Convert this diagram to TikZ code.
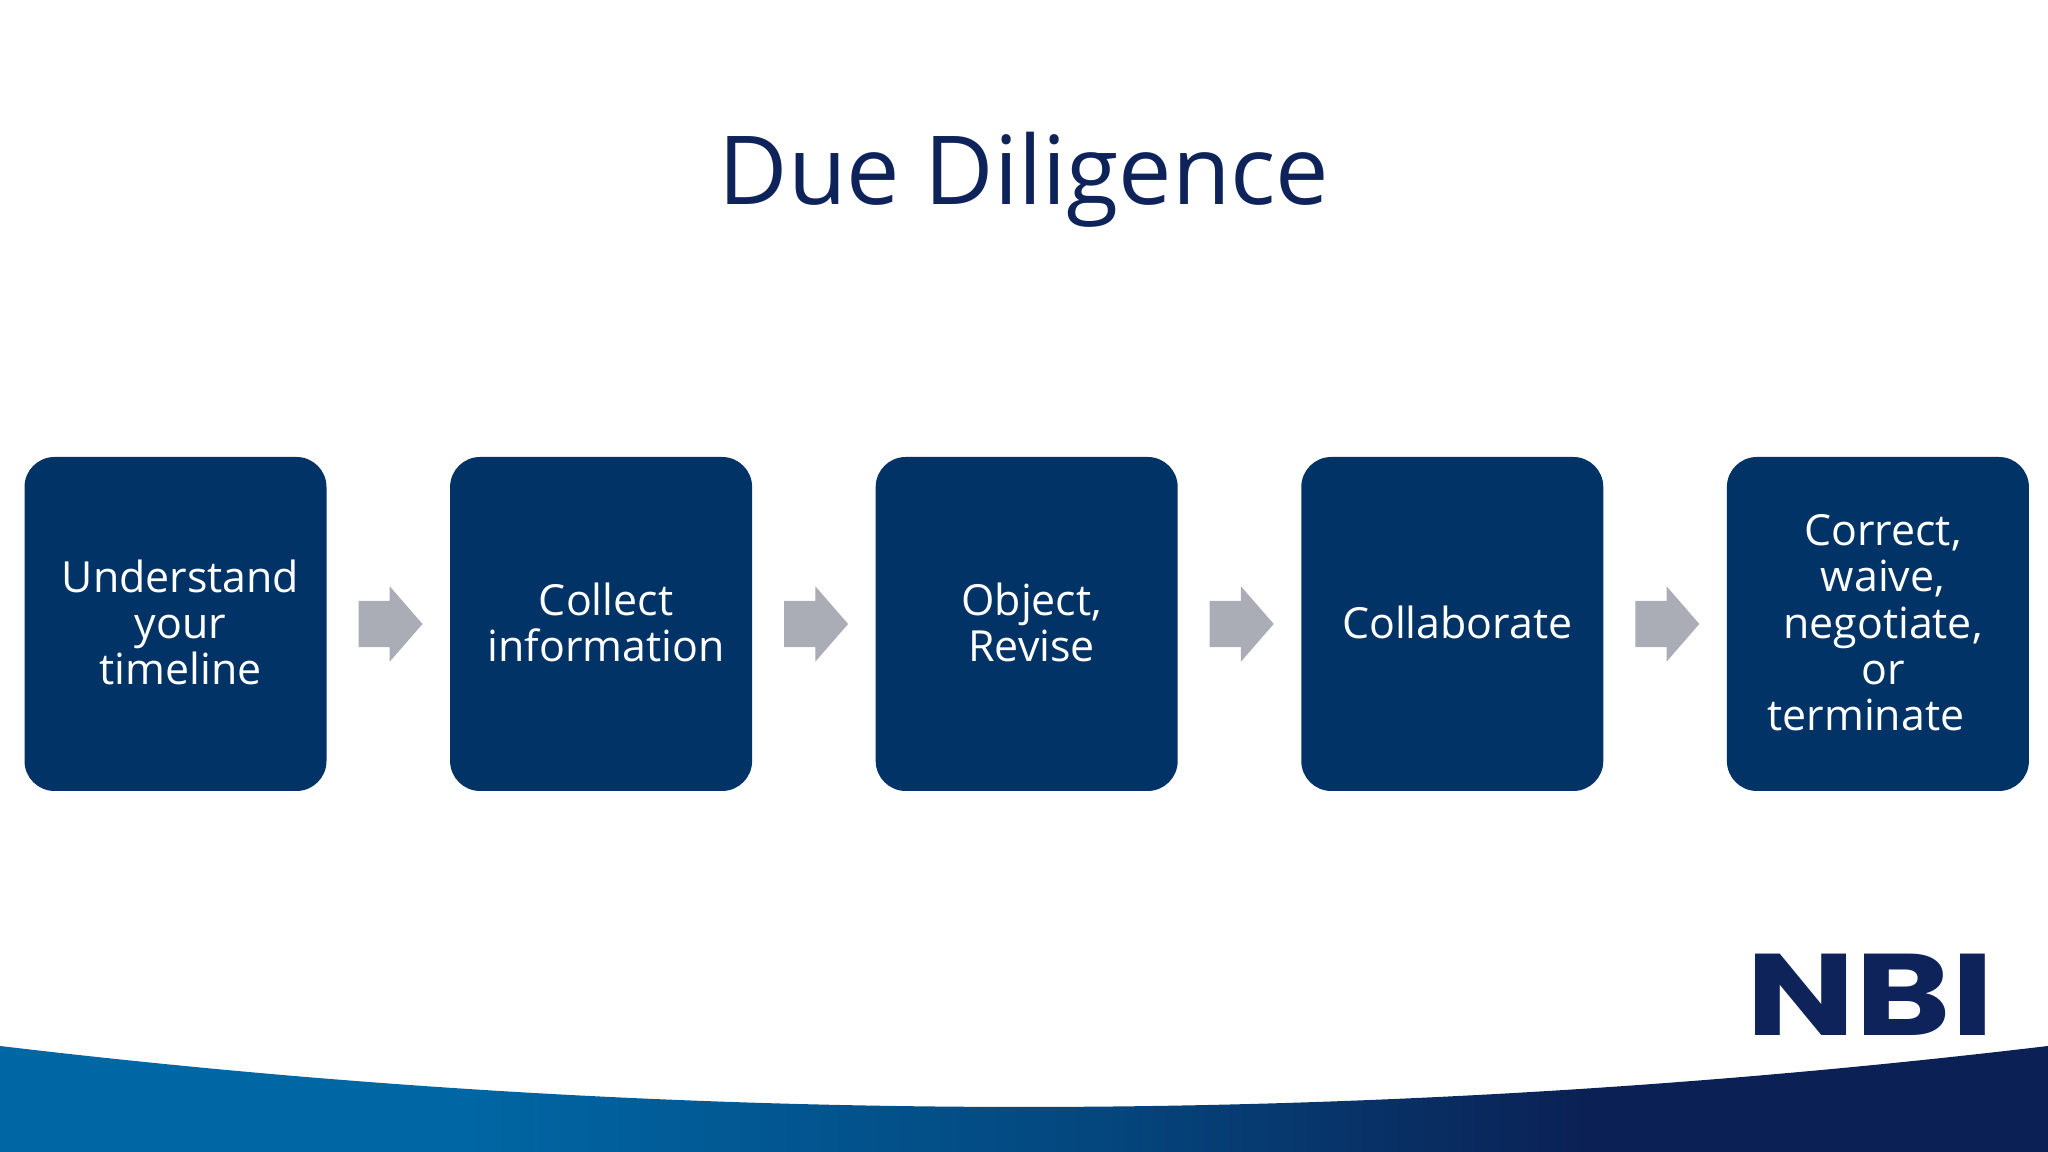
\documentclass[tikz,border=0pt]{standalone}
\usepackage{fontspec}
\setmainfont{Open Sans}
\newfontfamily\logofont{Poppins}
\usetikzlibrary{positioning,shapes.arrows}

\definecolor{boxblue}{RGB}{2,51,102}
\definecolor{titlenavy}{RGB}{14,35,90}
\definecolor{arrowgrey}{RGB}{170,172,182}
\definecolor{bandblue}{RGB}{0,103,165}
\definecolor{bandmid}{RGB}{4,70,125}
\definecolor{bandnavy}{RGB}{11,32,84}

\pgfdeclarehorizontalshading{bandshade}{100bp}{color(0bp)=(bandblue); color(36bp)=(bandblue); color(52bp)=(bandmid); color(64bp)=(bandnavy); color(100bp)=(bandnavy)}

\tikzset{
  stepbox/.style={fill=boxblue, rounded corners=3mm, minimum width=30.2mm, minimum height=33.4mm, inner sep=0, outer sep=0},
  steptext/.style={text=white, align=center, font=\fontsize{12.2}{13.1}\selectfont, inner sep=0},
  steparrow/.style={single arrow, fill=arrowgrey, minimum width=7.4mm, minimum height=6.4mm, inner xsep=0, inner ysep=2.25mm, outer sep=0, single arrow head extend=1.45mm, single arrow tip angle=98}
}

\begin{document}
\begin{tikzpicture}

  \useasboundingbox (0,0) rectangle (20.48,11.52);

  % Bottom band
  \path[shading=bandshade] (0,1.06) .. controls (6.827,0.247) and (13.653,0.247) .. (20.48,1.06) -- (20.48,0) -- (0,0) -- cycle;

  % Title
  \node[text=titlenavy, font=\fontsize{27.1}{32}\selectfont] (title) at (10.24,9.72) {Due Diligence};

  % Steps
  \node[stepbox] (box1) at (1.755,5.28) {};
  \node[steparrow, right=3.2mm of box1] (arrow1) {};
  \node[stepbox, right=12.36mm of box1] (box2) {};
  \node[steparrow, right=3.2mm of box2] (arrow2) {};
  \node[stepbox, right=12.36mm of box2] (box3) {};
  \node[steparrow, right=3.2mm of box3] (arrow3) {};
  \node[stepbox, right=12.36mm of box3] (box4) {};
  \node[steparrow, right=3.2mm of box4] (arrow4) {};
  \node[stepbox, right=12.36mm of box4] (box5) {};

  % Labels
  \node[steptext] (text1) at ([xshift=0.5mm,yshift=0.13mm]box1) {Understand\\your\\timeline};
  \node[steptext] (text2) at ([xshift=0.5mm,yshift=0.13mm]box2) {Collect\\information};
  \node[steptext] (text3) at ([xshift=0.5mm,yshift=0.13mm]box3) {Object,\\Revise};
  \node[steptext] (text4) at ([xshift=0.5mm,yshift=0.13mm]box4) {Collaborate};
  \node[steptext] (text5) at ([xshift=0.5mm,yshift=0.13mm]box5) {Correct,\\waive,\\negotiate,\\or\\terminate\hspace*{3.4mm}};

  % Logo
  \node[text=titlenavy, anchor=base west, inner sep=0, xscale=1.25, transform shape, font=\logofont\bfseries\fontsize{33}{33}\selectfont] (logo) at (17.46,1.16) {NBI};

\end{tikzpicture}
\end{document}
